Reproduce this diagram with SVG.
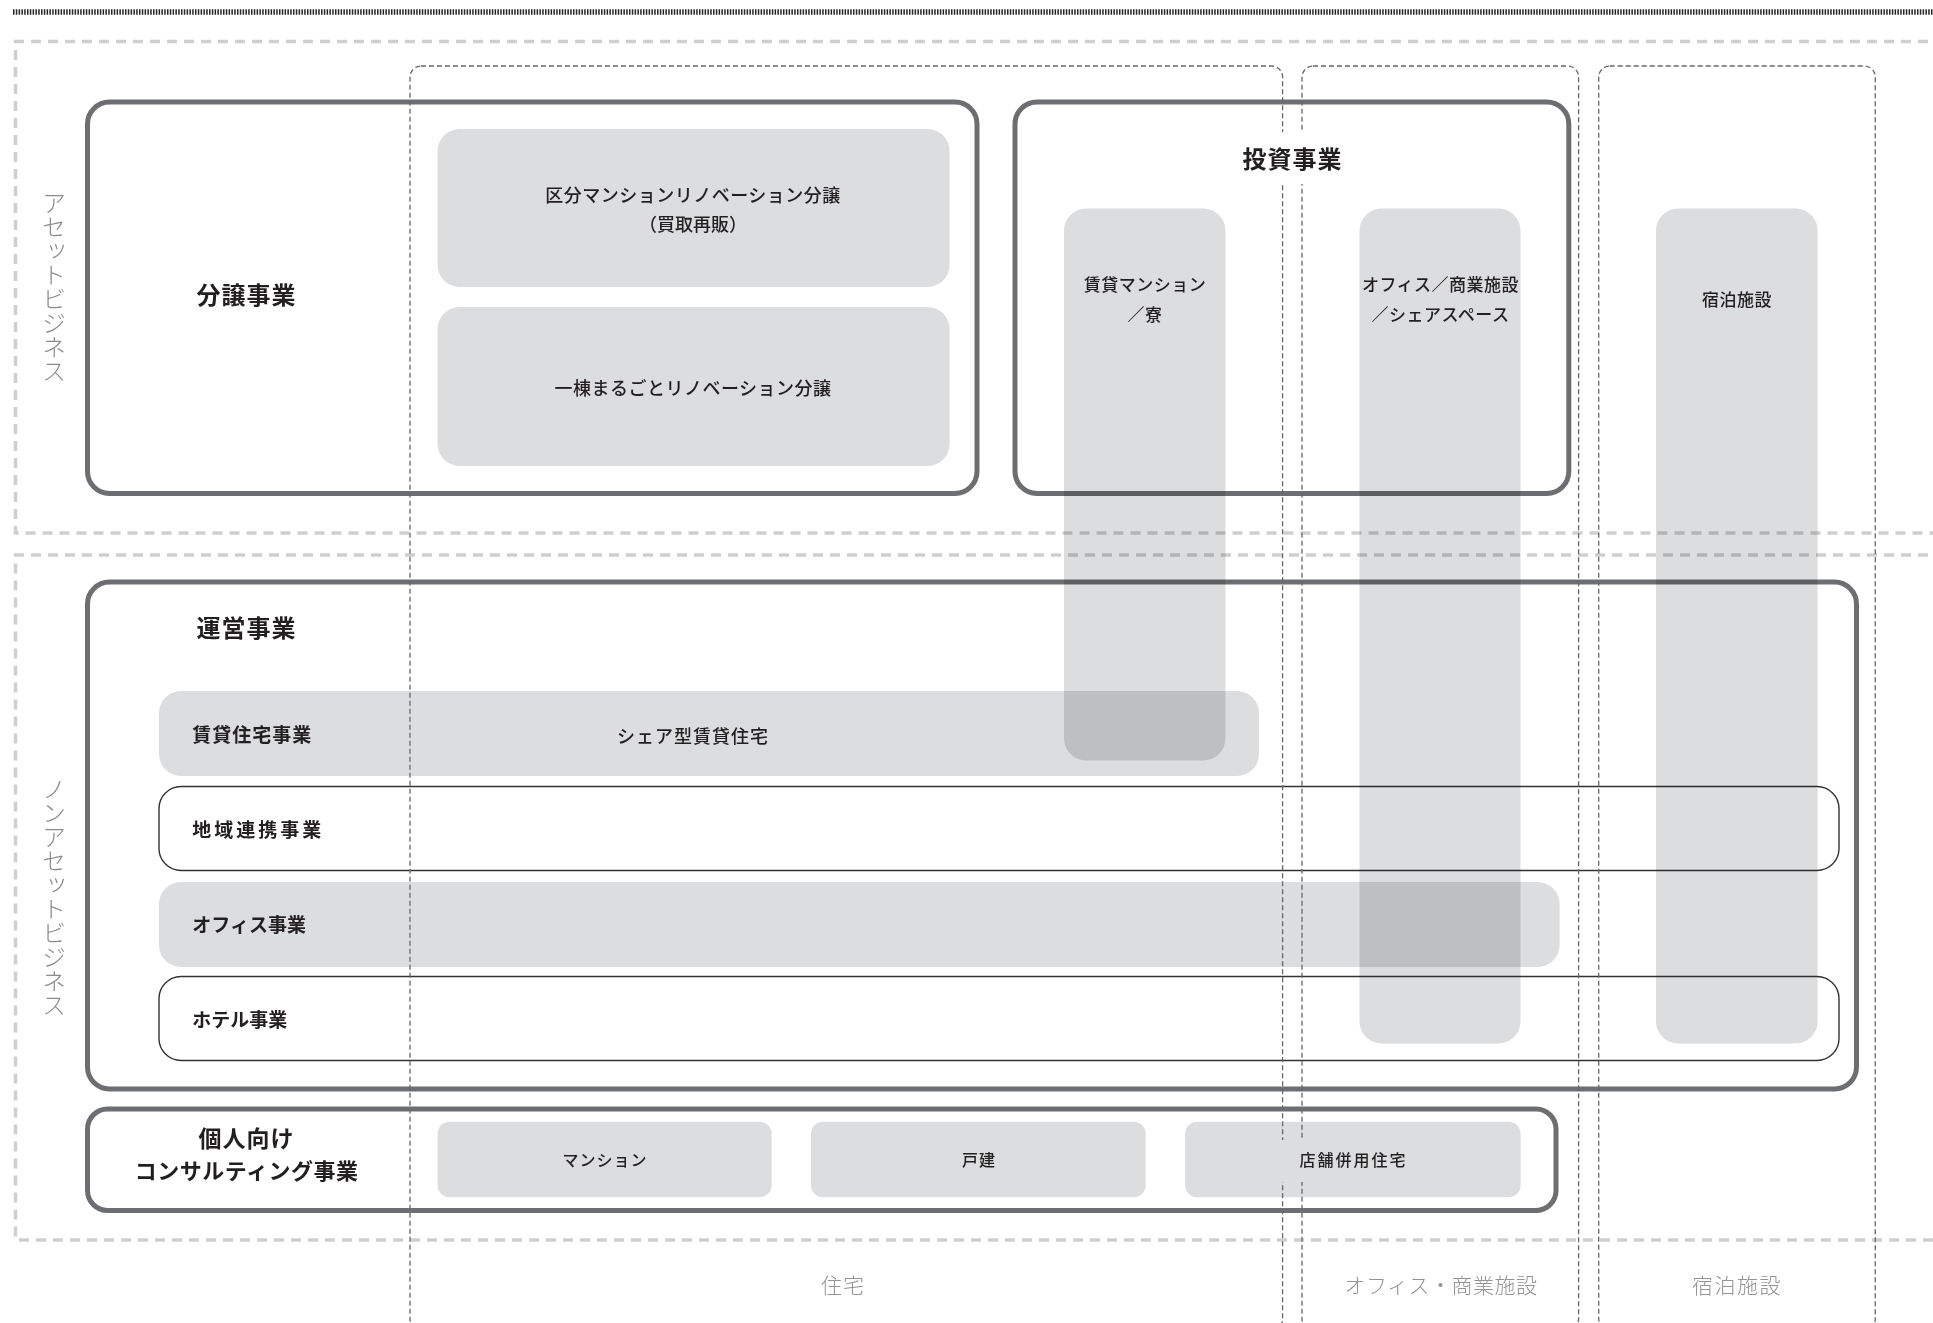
<svg xmlns="http://www.w3.org/2000/svg" width="1933" height="1323" viewBox="0 0 1933 1323">
  <style>
    text { font-family: "Noto Sans CJK JP", "Noto Sans", sans-serif; fill: #231f20; }
    .sec { fill: none; stroke: #cfcfcf; stroke-width: 3.5; stroke-dasharray: 10 7; }
    .col { fill: none; stroke: #67676a; stroke-width: 1.3; stroke-dasharray: 5 3; }
    .frame { fill: none; stroke: #6d6e71; stroke-width: 5; }
    .tile { fill: #dcdddf; }
    .band { fill: #dcdddf; mix-blend-mode: multiply; }
    .line { fill: none; stroke: #333335; stroke-width: 1.4; }
    .h { font-size: 24px; font-weight: 700; letter-spacing: 1px; text-anchor: middle; dominant-baseline: central; }
    .row { font-size: 19px; font-weight: 700; dominant-baseline: central; }
    .lbl { font-size: 18px; font-weight: 500; text-anchor: middle; dominant-baseline: central; }
    .sm { font-size: 17px; font-weight: 500; text-anchor: middle; dominant-baseline: central; letter-spacing: 0.5px; }
    .xs { font-size: 16px; font-weight: 500; text-anchor: middle; dominant-baseline: central; }
    .axis { font-size: 21px; font-weight: 300; fill: #949496; text-anchor: middle; dominant-baseline: central; }
    .vert { font-size: 24px; writing-mode: vertical-rl; text-orientation: upright; letter-spacing: 0px; fill: #8c8c8e; }
  </style>

  <rect width="1933" height="1323" fill="#ffffff"/>

  <!-- ruler strip along the top edge -->
  <line x1="13" y1="12" x2="1933" y2="12" stroke="#262628" stroke-width="5.5" stroke-dasharray="1.5 1.3"/>

  <!-- asset / non-asset bands -->
  <g id="band-asset">
    <path class="sec" d="M1945,41.5 H15.5 V533 H1945"/>
    <text class="axis vert" x="54" y="287">アセットビジネス</text>
  </g>
  <g id="band-nonasset">
    <path class="sec" d="M1945,555 H15.5 V1240 H1945"/>
    <text class="axis vert" x="54" y="897">ノンアセットビジネス</text>
  </g>

  <!-- 分譲事業 -->
  <g id="bunjo">
    <rect class="frame" x="87.5" y="102" width="889.5" height="391.5" rx="22"/>
    <text class="h" x="246.6" y="293.4">分譲事業</text>
    <rect class="tile" x="437.6" y="129" width="512" height="158" rx="22"/>
    <text class="lbl" x="693" y="193.5" letter-spacing="0.5">区分マンションリノベーション分譲</text>
    <text class="lbl" x="693" y="223">（買取再販）</text>
    <rect class="tile" x="437.6" y="307" width="512" height="159" rx="22"/>
    <text class="lbl" x="693" y="387" letter-spacing="0.5">一棟まるごとリノベーション分譲</text>
  </g>

  <!-- 投資事業 -->
  <g id="toushi">
    <rect class="frame" x="1015" y="102" width="553.8" height="391.5" rx="22"/>
  </g>

  <!-- 運営事業 -->
  <g id="unei">
    <rect class="frame" x="87.5" y="582" width="1769" height="507" rx="22"/>
    <text class="h" x="246.6" y="626.3">運営事業</text>
  </g>
  <g id="chintai-jutaku">
    <rect class="tile" x="159" y="691" width="1100" height="85" rx="22"/>
    <text class="row" x="192.3" y="733.5" letter-spacing="1">賃貸住宅事業</text>
    <text class="lbl" x="693" y="734.7" letter-spacing="1">シェア型賃貸住宅</text>
  </g>
  <g id="chiiki-renkei">
    <rect class="line" x="159" y="786.5" width="1680" height="84" rx="22"/>
    <text class="row" x="192.3" y="828.4" letter-spacing="3">地域連携事業</text>
  </g>
  <g id="office">
    <rect class="tile" x="159" y="882" width="1400.6" height="85" rx="22"/>
    <text class="row" x="192.3" y="923.4">オフィス事業</text>
  </g>
  <g id="hotel">
    <rect class="line" x="159" y="976.5" width="1680" height="84" rx="22"/>
    <text class="row" x="192.3" y="1018.3">ホテル事業</text>
  </g>

  <!-- 個人向けコンサルティング事業 -->
  <g id="consulting">
    <rect class="frame" x="87.5" y="1109" width="1468.5" height="101.5" rx="20"/>
    <text class="h" x="246.6" y="1136.6" style="font-size:23px">個人向け</text>
    <text class="h" x="246.6" y="1168.7" style="font-size:22px;letter-spacing:0.5px">コンサルティング事業</text>
    <rect class="tile" x="437.6" y="1121.7" width="334" height="75.6" rx="12"/>
    <text class="xs" x="605" y="1158.8" letter-spacing="1">マンション</text>
    <rect class="tile" x="811" y="1121.7" width="334.7" height="75.6" rx="12"/>
    <text class="xs" x="979" y="1158.8" letter-spacing="1">戸建</text>
    <rect class="tile" x="1185.2" y="1121.7" width="335.4" height="75.6" rx="12"/>
  </g>

  <!-- asset-type columns -->
  <g id="col-jutaku">
    <rect class="col" x="410" y="66" width="872.6" height="1264" rx="11"/>
    <text class="axis" x="843" y="1284" letter-spacing="1">住宅</text>
  </g>
  <g id="col-office">
    <rect class="col" x="1302" y="66" width="276.6" height="1264" rx="11"/>
    <text class="axis" x="1441" y="1284" letter-spacing="0.5">オフィス・商業施設</text>
  </g>
  <g id="col-shukuhaku">
    <rect class="col" x="1598.7" y="66" width="276.6" height="1264" rx="11"/>
    <text class="axis" x="1737" y="1284" letter-spacing="1.5">宿泊施設</text>
  </g>

  <!-- label plates that clear the column lines -->
  <g id="toushi-title">
    <rect x="1238" y="132" width="108" height="52" fill="#ffffff"/>
    <text class="h" x="1292.5" y="157">投資事業</text>
  </g>
  <g id="tenpo">
    <rect x="1272" y="1140" width="160" height="42" fill="#dcdddf"/>
    <text class="xs" x="1353.5" y="1158.8" letter-spacing="2">店舗併用住宅</text>
  </g>

  <!-- investment holdings, blended over the frames below -->
  <g id="inv-chintai">
    <rect class="band" x="1064" y="208.5" width="161.4" height="552" rx="22"/>
    <text class="sm" x="1145" y="283.5">賃貸マンション</text>
    <text class="sm" x="1145" y="313">／寮</text>
  </g>
  <g id="inv-office">
    <rect class="band" x="1359.5" y="208.5" width="161" height="835" rx="22"/>
    <text class="sm" x="1440.5" y="283.5">オフィス／商業施設</text>
    <text class="sm" x="1440.5" y="313">／シェアスペース</text>
  </g>
  <g id="inv-shukuhaku">
    <rect class="band" x="1656" y="208.5" width="161.6" height="835" rx="22"/>
    <text class="sm" x="1737" y="298.3" letter-spacing="1">宿泊施設</text>
  </g>
</svg>
